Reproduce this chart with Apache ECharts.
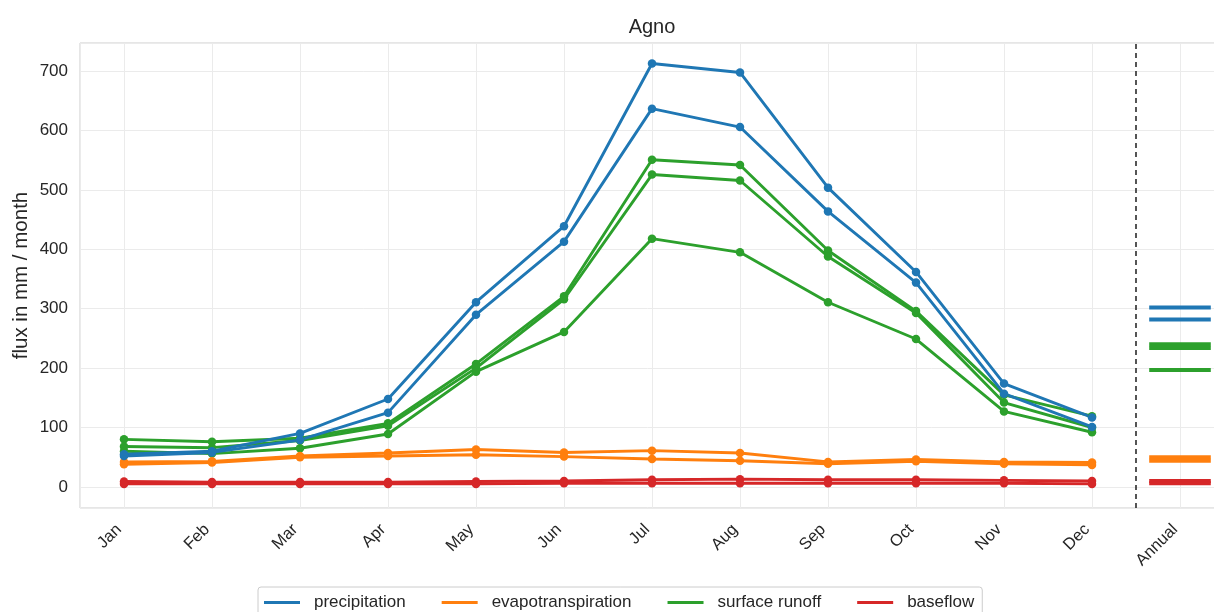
<!DOCTYPE html>
<html>
<head>
<meta charset="utf-8">
<title>Agno</title>
<script src="https://cdn.jsdelivr.net/npm/echarts@6/dist/echarts.min.js"></script>
<style>
  html, body { margin: 0; padding: 0; background: #ffffff; overflow: hidden; }
  #chart { width: 1214px; height: 612px; }
</style>
</head>
<body>
<div id="chart"></div>
<script>
// Month labels plus the annual column on the x axis
const months = ['Jan', 'Feb', 'Mar', 'Apr', 'May', 'Jun', 'Jul', 'Aug', 'Sep', 'Oct', 'Nov', 'Dec'];
const tickLabels = months.concat(['Annual']);

// Monthly fluxes, mm / month
const precipA = [55, 60, 90, 148, 311, 439, 713, 698, 504, 362, 174, 117];
const precipB = [52, 58, 79, 125, 290, 413, 637, 606, 464, 344, 157, 101];
const evapA   = [42, 43, 52, 57, 63, 58, 61, 57, 42, 46, 42, 41];
const evapB   = [38, 41, 50, 52, 54, 51, 47, 44, 39, 43, 39, 37];
const runoffA = [80, 76, 82, 107, 207, 321, 551, 542, 398, 296, 155, 119];
const runoffB = [68, 66, 78, 103, 200, 316, 526, 516, 388, 293, 142, 100];
const runoffC = [60, 56, 65, 89, 194, 261, 418, 395, 311, 249, 127, 92];
const baseA   = [9, 8, 8, 8, 9, 10, 12, 13, 12, 12, 11, 10];
const baseB   = [5, 5, 5, 5, 5, 6, 6, 6, 6, 6, 6, 5];

// Annual mean fluxes, mm / month
const annualPrecip = [302, 282];
const annualEvap   = [50, 44];
const annualRunoff = [240, 234, 197];
const annualBase   = [10, 6];

const COLORS = {
  'precipitation': '#1f77b4',
  'evapotranspiration': '#ff7f0e',
  'surface runoff': '#2ca02c',
  'baseflow': '#d62728'
};
const TEXT = '#262626';
const FONT = '"Liberation Sans", Arial, sans-serif';
const annualX = months.length;

function monthlySeries(name, values) {
  const color = COLORS[name];
  return {
    type: 'line',
    name: name,
    data: values.map((v, i) => [i, v]),
    symbol: 'circle',
    symbolSize: 8.5,
    showAllSymbol: true,
    lineStyle: { width: 2.9, color: color },
    itemStyle: { color: color },
    emphasis: { disabled: true },
    animation: false
  };
}

function annualSeries(name, value) {
  const color = COLORS[name];
  return {
    type: 'line',
    name: name,
    data: [[annualX - 0.35, value], [annualX + 0.35, value]],
    symbol: 'none',
    lineStyle: { width: 4, color: color },
    emphasis: { disabled: true },
    animation: false
  };
}

const series = [
  monthlySeries('surface runoff', runoffC),
  monthlySeries('surface runoff', runoffA),
  monthlySeries('surface runoff', runoffB),
  monthlySeries('evapotranspiration', evapA),
  monthlySeries('evapotranspiration', evapB),
  monthlySeries('baseflow', baseA),
  monthlySeries('baseflow', baseB),
  monthlySeries('precipitation', precipA),
  monthlySeries('precipitation', precipB)
];
annualPrecip.forEach(v => series.push(annualSeries('precipitation', v)));
annualRunoff.forEach(v => series.push(annualSeries('surface runoff', v)));
annualEvap.forEach(v => series.push(annualSeries('evapotranspiration', v)));
annualBase.forEach(v => series.push(annualSeries('baseflow', v)));

// Dashed separator between the months and the annual column
series[0].markLine = {
  silent: true,
  symbol: 'none',
  label: { show: false },
  lineStyle: { color: '#2b2b2b', type: [5, 4], width: 1.6 },
  data: [{ xAxis: annualX - 0.5 }],
  animation: false
};

const chart = echarts.init(document.getElementById('chart'), null, { renderer: 'canvas' });
chart.setOption({
  backgroundColor: '#ffffff',
  animation: false,
  textStyle: { fontFamily: FONT, color: TEXT },
  graphic: [{
    type: 'text',
    x: 652,
    y: 27,
    silent: true,
    style: {
      text: 'Agno',
      fill: TEXT,
      font: '20px ' + FONT,
      textAlign: 'center',
      textVerticalAlign: 'middle'
    }
  }],
  grid: {
    left: 80,
    top: 43,
    width: 1144,
    height: 465,
    outerBoundsMode: 'none',
    containLabel: false,
    show: true,
    borderColor: '#cccccc',
    borderWidth: 1,
    backgroundColor: 'transparent'
  },
  legend: {
    data: ['precipitation', 'evapotranspiration', 'surface runoff', 'baseflow'],
    left: 258,
    top: 587,
    orient: 'horizontal',
    icon: 'rect',
    itemWidth: 36,
    itemHeight: 3,
    itemGap: 36,
    padding: [7, 8, 7, 6],
    borderColor: '#cccccc',
    borderWidth: 1,
    borderRadius: 3,
    textStyle: { fontFamily: FONT, fontSize: 17, color: TEXT, padding: [0, 0, 0, 9] },
    selectedMode: false
  },
  xAxis: {
    type: 'value',
    min: -0.5,
    max: tickLabels.length - 0.5,
    minInterval: 1,
    maxInterval: 1,
    splitNumber: tickLabels.length,
    axisLine: { show: false },
    axisTick: { show: false },
    splitLine: { show: true, lineStyle: { color: '#ebebeb', width: 1 } },
    axisLabel: {
      showMinLabel: false,
      showMaxLabel: false,
      rotate: 45,
      margin: 14,
      padding: [0, 7, 0, 0],
      fontFamily: FONT,
      fontSize: 16.5,
      color: TEXT,
      formatter: v => (Number.isInteger(v) && tickLabels[v] !== undefined) ? tickLabels[v] : ''
    }
  },
  yAxis: {
    type: 'value',
    min: -35.6,
    max: 747.6,
    minInterval: 100,
    maxInterval: 100,
    splitNumber: 8,
    name: 'flux in mm / month',
    nameLocation: 'middle',
    nameGap: 48,
    nameMoveOverlap: false,
    nameTextStyle: { fontFamily: FONT, fontSize: 20.5, color: TEXT },
    axisLine: { show: false },
    axisTick: { show: false },
    splitLine: { show: true, lineStyle: { color: '#ebebeb', width: 1 } },
    axisLabel: {
      showMinLabel: false,
      showMaxLabel: false,
      margin: 12,
      fontFamily: FONT,
      fontSize: 17,
      color: TEXT,
      formatter: v => (v % 100 === 0) ? String(v) : ''
    }
  },
  series: series
});
</script>
</body>
</html>
